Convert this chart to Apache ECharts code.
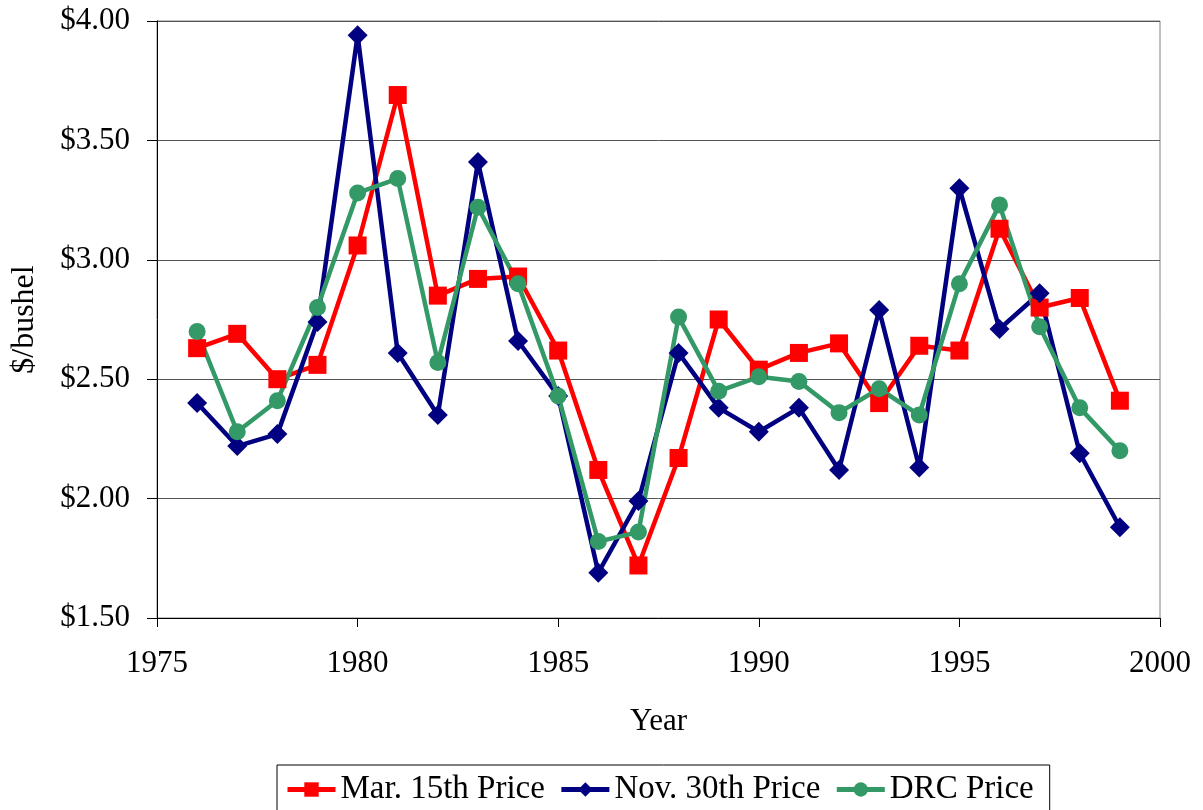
<!DOCTYPE html>
<html>
<head>
<meta charset="utf-8">
<script src="https://cdn.jsdelivr.net/npm/echarts@6/dist/echarts.min.js"></script>
<style>
  html, body { margin: 0; padding: 0; background: #fff; }
  #main { width: 1203px; height: 810px; }
</style>
</head>
<body>
<div id="main"></div>
<script>
const years = [1976, 1977, 1978, 1979, 1980, 1981, 1982, 1983, 1984, 1985, 1986, 1987,
  1988, 1989, 1990, 1991, 1992, 1993, 1994, 1995, 1996, 1997, 1998, 1999];
const marchPrice = [2.63, 2.69, 2.50, 2.56, 3.06, 3.69, 2.85, 2.92, 2.93, 2.62, 2.12, 1.72,
  2.17, 2.75, 2.54, 2.61, 2.65, 2.40, 2.64, 2.62, 3.13, 2.80, 2.84, 2.41];
const novPrice = [2.40, 2.22, 2.27, 2.74, 3.94, 2.61, 2.35, 3.41, 2.66, 2.43, 1.69, 1.99,
  2.61, 2.38, 2.28, 2.38, 2.12, 2.79, 2.13, 3.30, 2.71, 2.86, 2.19, 1.88];
const drcPrice = [2.70, 2.28, 2.41, 2.80, 3.28, 3.34, 2.57, 3.22, 2.90, 2.43, 1.82, 1.86,
  2.76, 2.45, 2.51, 2.49, 2.36, 2.46, 2.35, 2.90, 3.23, 2.72, 2.38, 2.20];
const seriesNames = ['Mar. 15th Price', 'Nov. 30th Price', 'DRC Price'];

const chart = echarts.init(document.getElementById('main'));
const font = 'Liberation Serif, Times New Roman, serif';

function pairs(vals) {
  return years.map((y, i) => [y, vals[i]]);
}

function lineSeries(name, vals, color, symbol, size) {
  return {
    name: name,
    type: 'line',
    data: pairs(vals),
    symbol: symbol,
    symbolSize: size,
    showAllSymbol: true,
    lineStyle: { color: color, width: 4.5 },
    itemStyle: { color: color },
    emphasis: { disabled: true },
    animation: false
  };
}

chart.setOption({
  backgroundColor: '#fff',
  textStyle: { fontFamily: font, color: '#000' },
  grid: {
    left: 157, right: 43, top: 21, bottom: 192,
    show: true, borderColor: '#808080', borderWidth: 1
  },
  legend: {
    data: seriesNames,
    left: 277, top: 765,
    padding: [8, 16, 14, 8],
    itemGap: 14,
    itemWidth: 48, itemHeight: 18,
    lineStyle: { width: 5 },
    borderColor: '#000', borderWidth: 1,
    textStyle: { fontFamily: font, fontSize: 33, color: '#000' }
  },
  xAxis: {
    type: 'value',
    min: 1975, max: 2000, interval: 5,
    name: 'Year', nameLocation: 'middle', nameGap: 88,
    nameTextStyle: { fontFamily: font, fontSize: 31, color: '#000' },
    axisLine: { onZero: false, lineStyle: { color: '#000', width: 1 } },
    axisTick: { show: true, length: 9, lineStyle: { color: '#000' } },
    axisLabel: {
      fontFamily: font, fontSize: 31, color: '#000', margin: 30,
      formatter: v => String(v)
    },
    splitLine: { show: false }
  },
  yAxis: {
    type: 'value',
    min: 1.5, max: 4.0, interval: 0.5,
    name: '$/bushel', nameLocation: 'middle', nameGap: 116,
    nameTextStyle: { fontFamily: font, fontSize: 32, color: '#000' },
    axisLine: { show: true, lineStyle: { color: '#000', width: 1 } },
    axisTick: { show: true, length: 10, lineStyle: { color: '#000' } },
    axisLabel: {
      fontFamily: font, fontSize: 31, color: '#000', margin: 27,
      formatter: v => '$' + v.toFixed(2)
    },
    splitLine: { show: true, lineStyle: { color: '#555', width: 1 } }
  },
  series: [
    lineSeries(seriesNames[0], marchPrice, '#ff0000', 'rect', 18),
    lineSeries(seriesNames[1], novPrice, '#000080', 'diamond', 20),
    lineSeries(seriesNames[2], drcPrice, '#339966', 'circle', 17)
  ]
});
</script>
</body>
</html>
